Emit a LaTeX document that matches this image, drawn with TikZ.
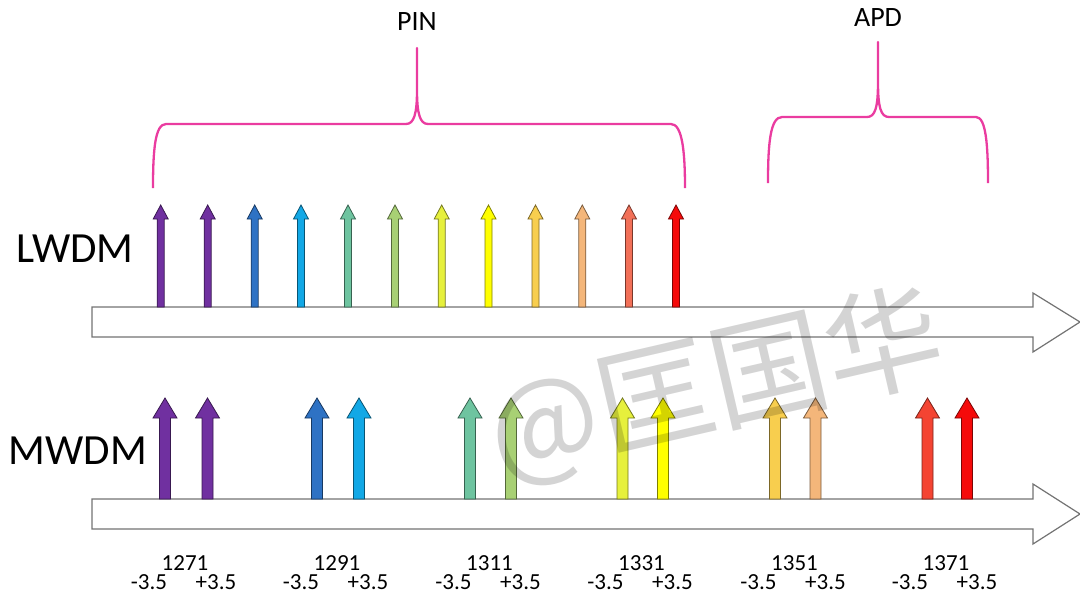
\documentclass[tikz,border=0pt]{standalone}
\usepackage{fontspec}
\setmainfont{Carlito}
\newfontfamily\cjkfont{Noto Sans CJK SC}
\definecolor{bracepink}{RGB}{234,60,160}
\definecolor{cPurple}{HTML}{7030A0}
\definecolor{cBlue}{HTML}{2E72C4}
\definecolor{cSky}{HTML}{12A8E6}
\definecolor{cTeal}{HTML}{6EC4A0}
\definecolor{cLgreen}{HTML}{A8D074}
\definecolor{cYgreen}{HTML}{E6F03C}
\definecolor{cYellow}{HTML}{FFFF00}
\definecolor{cGold}{HTML}{F8CE4E}
\definecolor{cLorange}{HTML}{F4B67A}
\definecolor{cSalmon}{HTML}{F27058}
\definecolor{cRedorange}{HTML}{F44432}
\definecolor{cRed}{HTML}{F50A0A}
\begin{document}
\begin{tikzpicture}[x=1pt,y=-1pt,
  bigarrow/.style={draw=black!55, fill=white, line width=1.2pt},
  brace/.style={draw=bracepink, line width=2.3pt, line join=round},
  numlbl/.style={font=\fontsize{23}{23}\selectfont, inner sep=0pt},
  titlelbl/.style={font=\fontsize{28}{28}\selectfont, inner sep=0pt},
  rowlbl/.style={font=\fontsize{43}{43}\selectfont, inner sep=0pt}]
\useasboundingbox (0,0) rectangle (1080,608);
% main arrows
\draw[bigarrow] (92,307) -- (1033,307) -- (1033,293) -- (1080,322) -- (1033,352) -- (1033,337) -- (92,337) -- cycle;
\draw[bigarrow] (92,499) -- (1033,499) -- (1033,484) -- (1080,514) -- (1033,544) -- (1033,529) -- (92,529) -- cycle;
% LWDM thin arrows
\foreach \x/\c in {160.7/cPurple, 207.7/cPurple, 254.7/cBlue, 301/cSky, 348/cTeal, 395/cLgreen, 441.7/cYgreen, 488.5/cYellow, 535.5/cGold, 582.3/cLorange, 629/cSalmon, 676/cRed}{
  \draw[draw=\c!50!black, fill=\c, line width=0.8pt] ({\x-3.5},307) -- ({\x-3.5},219) -- ({\x-7.5},219) -- (\x,205) -- ({\x+7.5},219) -- ({\x+3.5},219) -- ({\x+3.5},307) -- cycle;
}
% MWDM arrows
\foreach \x/\c in {165/cPurple, 207.5/cPurple, 317/cBlue, 359/cSky, 470/cTeal, 511/cLgreen, 622.5/cYgreen, 663/cYellow, 775/cGold, 815.5/cLorange, 927.5/cRedorange, 967/cRed}{
  \draw[draw=\c!50!black, fill=\c, line width=0.8pt] ({\x-5.5},499) -- ({\x-5.5},418) -- ({\x-12},418) -- (\x,398) -- ({\x+12},418) -- ({\x+5.5},418) -- ({\x+5.5},499) -- cycle;
}
% braces
\draw[brace] (153,188) .. controls (153,150) and (155,124) .. (166,124) -- (406,124) .. controls (414,124) and (417,114) .. (417,90) -- (417,48) -- (417,90) .. controls (417,114) and (420,124) .. (428,124) -- (671,124) .. controls (682,124) and (685,150) .. (685,188);
\draw[brace] (768,183) .. controls (768,145) and (770,117) .. (782,117) -- (867,117) .. controls (875,117) and (878,108) .. (878,82) -- (878,42) -- (878,82) .. controls (878,108) and (881,117) .. (889,117) -- (976,117) .. controls (986,117) and (988,145) .. (988,183);
% titles
\node[titlelbl] (pin) at (417,22) {PIN};
\node[titlelbl] (apd) at (878,18) {APD};
\node[rowlbl] (lwdm) at (75,249) {LWDM};
\node[rowlbl] (mwdm) at (78,451) {MWDM};
% wavelength labels
\foreach \c/\w [count=\i] in {186/1271, 338/1291, 490.5/1311, 642.5/1331, 795.5/1351, 947/1371}{
  \node[numlbl] (w\i) at ({\c-1},563) {\w};
  \node[numlbl] (m\i) at ({\c-37},582) {-3.5};
  \node[numlbl] (p\i) at ({\c+30},582) {+3.5};
}
% watermark (semi-transparent overlay)
\node[font=\cjkfont\fontsize{117}{117}\selectfont, text=black, opacity=0.17, rotate=13, inner sep=0pt] (wm) at (716,386) {@匡国华};
\end{tikzpicture}
\end{document}
